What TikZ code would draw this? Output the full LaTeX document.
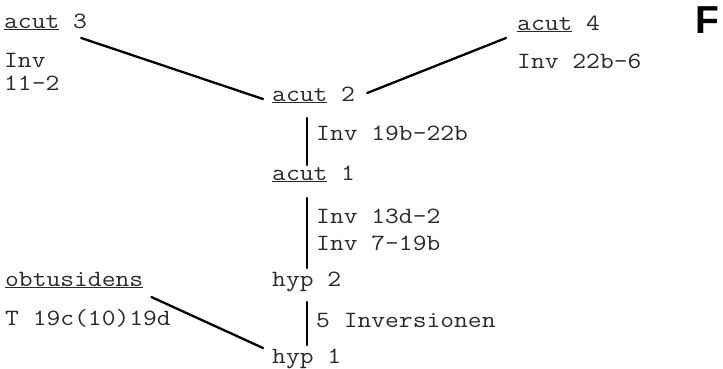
\documentclass[tikz,border=0pt]{standalone}
\usepackage{fontspec}
\usetikzlibrary{calc}
\setmonofont{Latin Modern Mono}[FakeStretch=1.15]
\newfontfamily\labelsans{Liberation Sans}
\definecolor{TypeInk}{HTML}{2A2A2A}

\begin{document}
\begin{tikzpicture}[
    x=1pt, y=-1pt,
    font=\ttfamily\fontsize{23.3}{23}\selectfont,
    taxon/.style={
        anchor=base west,
        inner sep=0pt,
        text=TypeInk
    },
    note/.style={
        anchor=base west,
        inner sep=0pt,
        text=TypeInk,
        align=left
    },
    link/.style={
        line width=2.3pt,
        draw=black,
        line cap=round
    }
]
    \useasboundingbox (0,0) rectangle (723,368);

    % taxa
    \node[taxon] (acutIII) at (4,28) {\underline{acut} 3};
    \node[taxon] (acutIV) at (517,30) {\underline{acut} 4};
    \node[taxon] (acutII) at (272,101) {\underline{acut} 2};
    \node[taxon] (acutI) at (272,180) {\underline{acut} 1};
    \node[taxon] (hypII) at (272,286) {hyp 2};
    \node[taxon] (hypI) at (272,363) {hyp 1};
    \node[taxon] (obtus) at (5,286) {\underline{obtusidens}};

    % inversion notes (base = last line)
    \node[note] (invIII) at (4,90) {Inv\\11-2};
    \node[note] (invIV) at (517,68) {Inv 22b-6};
    \node[note] (invII) at (316,140) {Inv 19b-22b};
    \node[note] (invI) at (316,250) {Inv 13d-2\\[4pt]Inv 7-19b};
    \node[note] (invHyp) at (316,327) {5 Inversionen};
    \node[note] (transObt) at (5,325) {T 19c(10)19d};

    \node[anchor=base west, inner sep=0pt,
        font=\labelsans\bfseries\fontsize{39}{39}\selectfont] (panel) at (695,33) {F};

    % connections
    \draw[link] ($(acutIII.base east)+(-6,10)$) -- ($(acutII.base west)+(-9,-2)$);
    \draw[link] ($(acutII.base east)+(12,-8)$) -- ($(acutIV.base west)+(-11,8)$);
    \draw[link] ($(acutII.base west)+(35,17)$) -- ($(acutI.base west)+(35,-15)$);
    \draw[link] ($(acutI.base west)+(35,18)$) -- ($(hypII.base west)+(35,-18)$);
    \draw[link] ($(hypII.base west)+(35,16)$) -- ($(hypI.base west)+(35,-18)$);
    \draw[link] ($(obtus.base east)+(8,11)$) -- ($(hypI.base west)+(-9,-15)$);
\end{tikzpicture}
\end{document}
